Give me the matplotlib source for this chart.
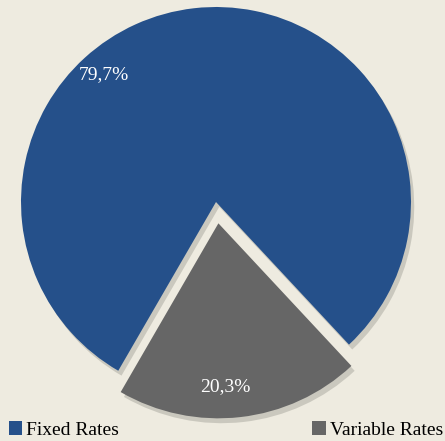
import matplotlib.pyplot as plt

# interest rate split
labels = ["Fixed Rates", "Variable Rates"]
shares = [79.7, 20.3]
pct_text = ["79,7%", "20,3%"]

colors = ["#25508a", "#666666"]
bg = "#eeebe0"

plt.rcParams['font.family'] = ['Liberation Serif', 'DejaVu Serif']

fig = plt.figure(figsize=(4.45, 4.41), dpi=100, facecolor=bg)
ax = fig.add_axes([0, 0, 1, 1])
ax.set_facecolor(bg)

wedges, texts = ax.pie(shares, colors=colors, explode=[0, 0.11], startangle=-47,
                       radius=1.0, center=(0, 0),
                       wedgeprops=dict(edgecolor="none", linewidth=0),
                       shadow=dict(ox=0.012, oy=-0.018, color="#888880", alpha=0.35))

# percentage labels
ax.text(-0.574, 0.651, pct_text[0], color="white", fontsize=14,
        ha="center", va="center")
ax.text(0.046, -0.949, pct_text[1], color="white", fontsize=14,
        ha="center", va="center")

ax.set_xlim(-1.1077, 1.1744)
ax.set_ylim(-1.2256, 1.0359)
ax.set_aspect("auto")
ax.axis("off")

fig.legend(wedges, labels, loc="lower left", bbox_to_anchor=(0.015, 0.0, 0.985, 0.05),
           ncol=2, mode="expand", frameon=False, fontsize=14,
           handlelength=0.7, handleheight=0.7, handletextpad=0.2,
           borderaxespad=0.0, borderpad=0.1)

fig.savefig("out.png", dpi=100, facecolor=bg)
